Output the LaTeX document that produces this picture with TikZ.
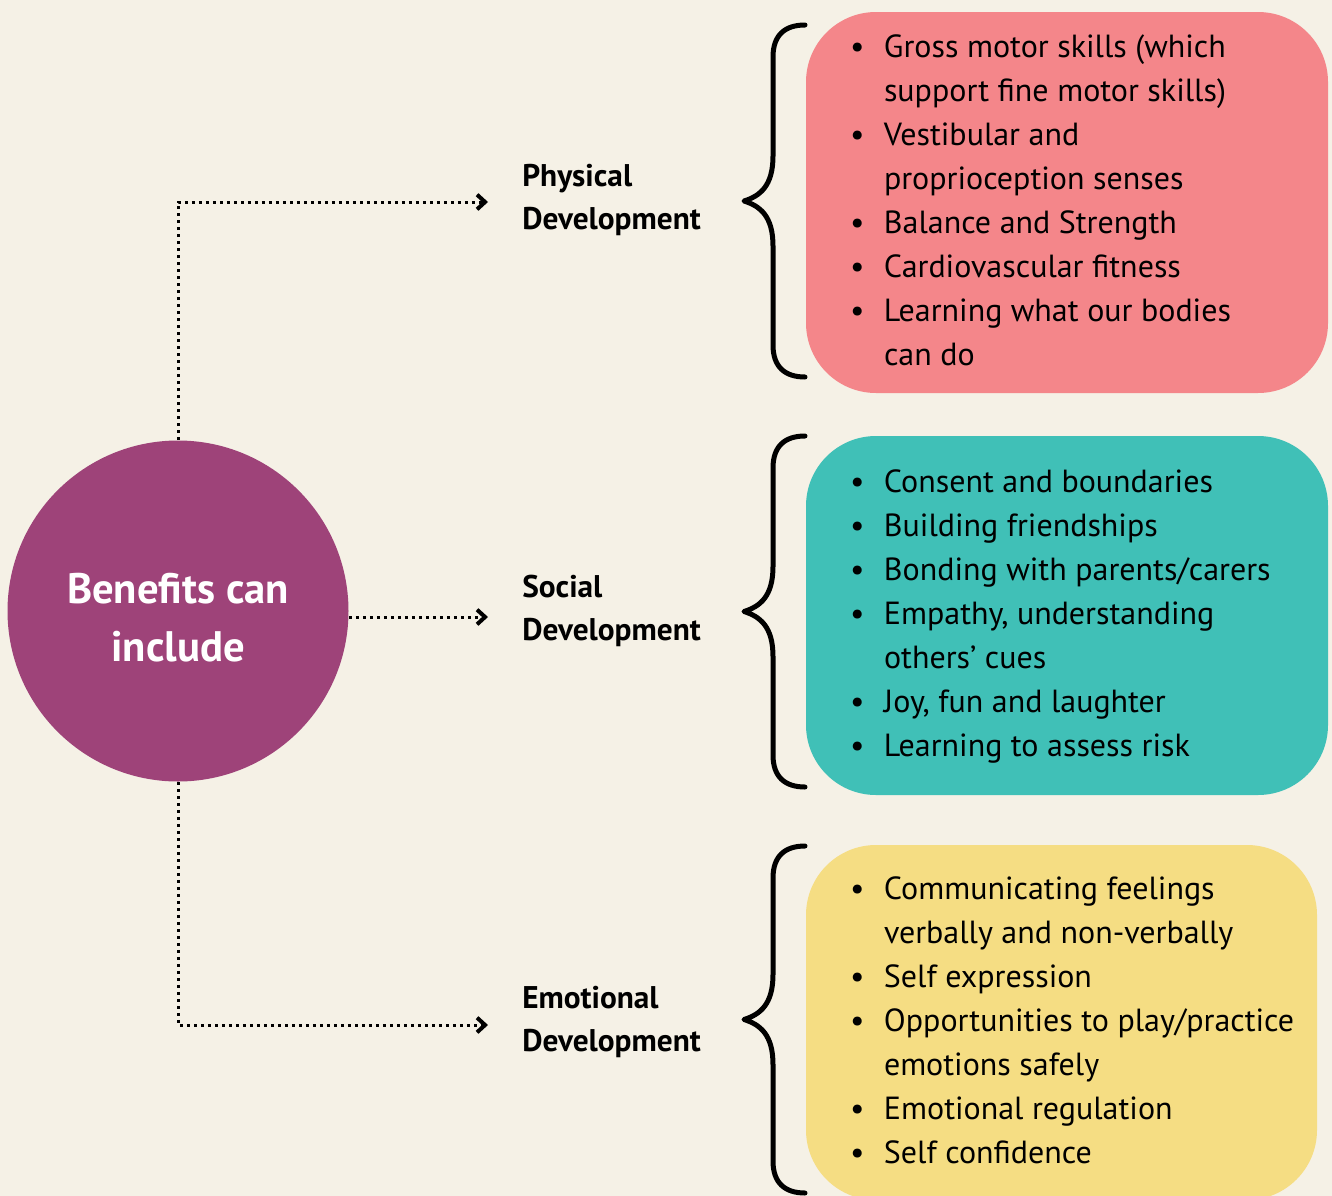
\documentclass[tikz,border=0pt]{standalone}
\usepackage{fontspec}
\setmainfont{PT Sans}
\usetikzlibrary{positioning,arrows.meta}

\definecolor{cream}{HTML}{F5F1E6}
\definecolor{plum}{HTML}{9E4379}
\definecolor{rose}{HTML}{F4868A}
\definecolor{mint}{HTML}{40C0B7}
\definecolor{butter}{HTML}{F5DD83}

\begin{document}
\begin{tikzpicture}[x=0.75pt,y=-0.75pt,
  hub/.style={circle, fill=plum, minimum size=255.75pt, inner sep=0pt, text=white,
    text height=60pt, text depth=32pt, font=\bfseries\fontsize{32}{43.5}\selectfont},
  area/.style={anchor=west, inner sep=0pt, align=left,
    font=\bfseries\fontsize{23.5}{32.5}\selectfont},
  card/.style={rounded corners=52.5pt, minimum width=391.5pt, inner sep=0pt},
  items/.style={inner sep=0pt, font=\fontsize{24}{33}\selectfont},
  link/.style={line width=2.25pt, dash pattern=on 2.25pt off 3pt, shorten >=25.5pt,
    -{Straight Barb[length=6pt,width=11pt,line width=3pt]}},
  curly/.style={line width=3.75pt, line cap=round, line join=round}]
\useasboundingbox (0,0) rectangle (1332,1196);
\fill[cream] (0,0) rectangle (1332,1196);

% centre circle
\node[hub] (c) at (178,611)
  {\begin{tabular}{@{}c@{}}Benefits can\\include\end{tabular}};

% the three areas
\node[area] (phys) at (522,200) {Physical\\Development};
\node[area] (soc) at (522,611) {Social\\Development};
\node[area] (emo) at (522,1022) {Emotional\\Development};
\coordinate (physin) at ([yshift=-1.5pt]phys.west);
\coordinate (socin) at ([yshift=-4.5pt]soc.west);
\coordinate (emoin) at ([yshift=-2.25pt]emo.west);

\draw[link] (c.north) |- (physin);
\draw[link] (c.east |- socin) -- (socin);
\draw[link] (c.south) |- (emoin);

% coloured cards
\node[card, fill=rose, minimum height=285.75pt] (physbox) at (1067,202.5) {};
\node[card, fill=mint, minimum height=269.25pt] (socbox) at (1067,615.5) {};
\node[card, fill=butter, minimum width=383.25pt, minimum height=266.25pt] (emobox) at (1061.5,1022.5) {};

\node[items, right=33pt of physbox.west] (physlist) {%
  \begin{tabular}{@{}p{25.5pt}@{}l@{}}
  \textbullet & Gross motor skills (which\\
              & support fine motor skills)\\
  \textbullet & Vestibular and\\
              & proprioception senses\\
  \textbullet & Balance and Strength\\
  \textbullet & Cardiovascular fitness\\
  \textbullet & Learning what our bodies\\
              & can do
  \end{tabular}};

\node[items, right=33pt of socbox.west] (soclist) {%
  \begin{tabular}{@{}p{25.5pt}@{}l@{}}
  \textbullet & Consent and boundaries\\
  \textbullet & Building friendships\\
  \textbullet & Bonding with parents/carers\\
  \textbullet & Empathy, understanding\\
              & others’ cues\\
  \textbullet & Joy, fun and laughter\\
  \textbullet & Learning to assess risk
  \end{tabular}};

\node[items, right=33pt of emobox.west] (emolist) {%
  \begin{tabular}{@{}p{25.5pt}@{}l@{}}
  \textbullet & Communicating feelings\\
              & verbally and non-verbally\\
  \textbullet & Self expression\\
  \textbullet & Opportunities to play/practice\\
              & emotions safely\\
  \textbullet & Emotional regulation\\
  \textbullet & Self confidence
  \end{tabular}};

% curly braces in front of the cards
\foreach \ya/\yb in {25/377, 436/787, 846/1193}{
  \pgfmathsetmacro{\ym}{(\ya+\yb)/2}
  \draw[curly] (805,\ya) .. controls (785,\ya) and (773,\ya+10) .. (773,\ya+32)
    -- (773,\ym-45) .. controls (773,\ym-15) and (760,\ym-5) .. (744,\ym)
    .. controls (760,\ym+5) and (773,\ym+15) .. (773,\ym+45)
    -- (773,\yb-32) .. controls (773,\yb-10) and (785,\yb) .. (805,\yb);
}
\end{tikzpicture}
\end{document}
